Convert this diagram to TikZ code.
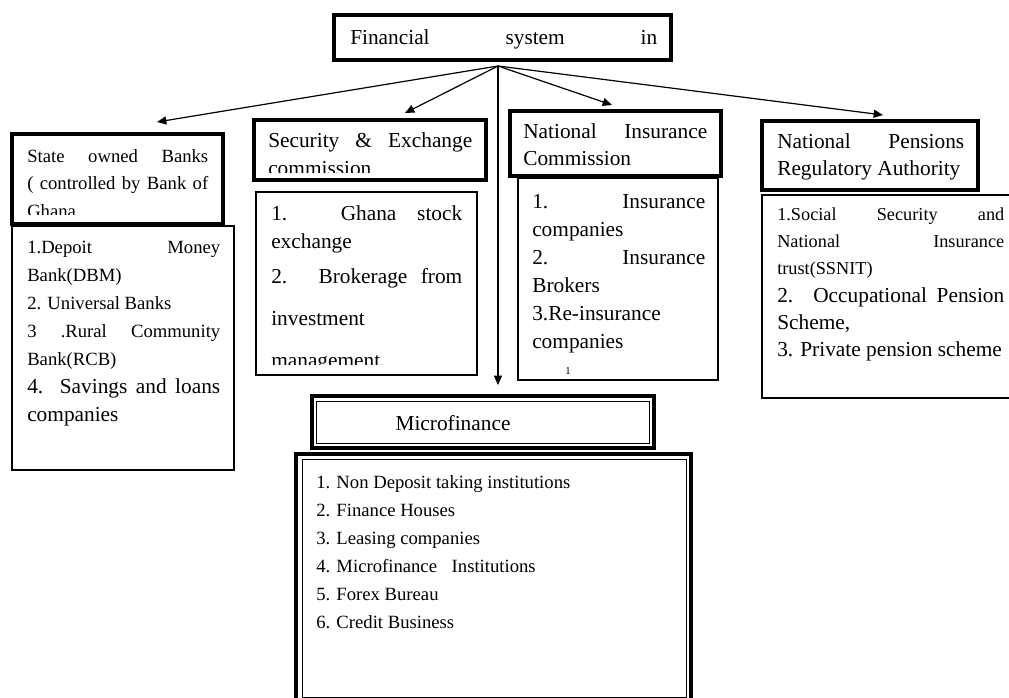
\documentclass[tikz,border=0pt]{standalone}
\usepackage{fontspec}
\setmainfont{Liberation Serif}
\usetikzlibrary{arrows.meta}
\usetikzlibrary{fit}
\usetikzlibrary{calc}
\setlength{\parindent}{0pt}

\tikzset{
    frame/.style = {draw, line width = 3pt, inner sep = 0pt, outer sep = 0pt},
    listbox/.style = {draw, line width = 0.8pt, inner sep = 0pt, outer sep = 0pt},
    txt/.style = {anchor = north west, inner sep = 0pt, align = justify},
    link/.style = {line width = 0.9pt, -{Triangle[length = 7pt, width = 6pt]}}
}
\newcommand{\bigfont}{\fontsize{16}{21}\selectfont}
\newcommand{\smallfont}{\fontsize{14}{21}\selectfont}

\begin{document}
\begin{tikzpicture}[x = 0.75pt, y = -0.75pt]
        \useasboundingbox (0, 0) rectangle (1009, 698);
        \clip (0, 0) rectangle (1009, 698);

        % boxes
        \node[frame, fit = {(334, 15) (671, 60)}] (fin) {};
        \node[listbox, fit = {(12, 226) (234, 470)}] (banksList) {};
        \node[frame, fit = {(12, 134) (223, 224)}] (banksHead) {};
        \node[frame, fit = {(254, 120) (486, 180)}] (secHead) {};
        \node[listbox, fit = {(256, 192) (477, 375)}] (secList) {};
        \node[listbox, fit = {(518, 178) (718, 380)}] (insList) {};
        \node[frame, fit = {(510, 111) (721, 176)}] (insHead) {};
        \node[listbox, fit = {(762, 195) (1020, 398)}] (penList) {};
        \node[frame, fit = {(762, 121) (978, 190)}] (penHead) {};
        \node[frame, fit = {(311.5, 395.5) (654, 448)}] (microHead) {};
        \draw[line width = 0.7pt] (316, 401) rectangle (649.5, 443);
        \node[frame, fit = {(296, 454) (691, 702)}] (microList) {};
        \draw[line width = 0.7pt] (302, 459) rectangle (686, 697);

        % texts
        \node[anchor = base west, inner sep = 0pt, font = \bigfont] (finTxt) at (350, 45)
            {\makebox[230.25pt][s]{Financial system in}};

        \begin{scope}
            \clip (14, 136) rectangle (221, 214.5);
            \node[txt, text width = 135.75pt, font = \fontsize{14}{20.6}\selectfont] (banksHeadTxt) at (27, 142.8)
                {\strut State owned Banks\linebreak ( controlled by Bank of\linebreak Ghana\par};
        \end{scope}
        \node[txt, text width = 144.75pt, font = \smallfont] (banksListTxt) at (27, 233.4)
            {\strut 1.Depoit Money\linebreak Bank(DBM)\par
             2. Universal Banks\par
             3 .Rural Community\linebreak Bank(RCB)\par
             \bigfont 4. Savings and loans\linebreak companies\par};

        \begin{scope}
            \clip (256, 122) rectangle (484, 172.5);
            \node[txt, text width = 153pt, font = \fontsize{16}{21}\selectfont] (secHeadTxt) at (268, 127.4)
                {\strut Security \& Exchange\linebreak commission\par};
        \end{scope}
        \begin{scope}
            \clip (257, 193) rectangle (476, 364.5);
            \node[txt, text width = 143.25pt, font = \bigfont] (secListTxt) at (271, 200.4)
                {\strut 1. Ghana stock\linebreak exchange\par
                 \vspace{-5.25pt}\fontsize{16}{31.5}\selectfont
                 2. Brokerage from\linebreak investment\par
                 management.\par};
        \end{scope}

        \node[txt, text width = 138pt, font = \fontsize{16}{20.25}\selectfont] (insHeadTxt) at (523, 119.1)
            {\strut National Insurance\linebreak Commission\par};
        \node[txt, text width = 129.75pt, font = \bigfont] (insListTxt) at (532, 188.4)
            {\strut 1. Insurance\linebreak companies\par
             2. Insurance\linebreak Brokers\par
             3.Re-insurance\par
             companies\par};
        \node[anchor = base, inner sep = 0pt, font = \fontsize{8}{9}\selectfont] (insNum) at (568, 374) {1};

        \node[txt, text width = 140.25pt, font = \fontsize{16}{20.25}\selectfont] (penHeadTxt) at (777, 129.1)
            {\strut National Pensions\linebreak Regulatory Authority\par};
        \node[txt, text width = 170.25pt, font = \fontsize{13.7}{20.5}\selectfont] (penListTxt) at (777, 200.9)
            {\strut 1.Social Security and\linebreak National Insurance\linebreak trust(SSNIT)\par
             \fontsize{16}{20.5}\selectfont
             2. Occupational Pension\linebreak Scheme,\par
             3. Private pension scheme\par};

        \node[anchor = base, inner sep = 0pt, font = \bigfont] (microTxt) at (453, 430) {Microfinance};
        \node[txt, text width = 270pt, font = \smallfont] (microListTxt) at (316, 468.4)
            {\strut 1. Non Deposit taking institutions\par
             2. Finance Houses\par
             3. Leasing companies\par
             4. Microfinance\hspace{11pt}Institutions\par
             5. Forex Bureau\par
             6. Credit Business\par};

        % arrows
        \coordinate (hub) at ($(fin.south) + (-4.5, 6)$);
        \coordinate (banksTip) at (157, 122);
        \coordinate (secTip) at (405, 113);
        \coordinate (microTip) at (498, 385);
        \coordinate (insTip) at (612, 105);
        \coordinate (penTip) at (883, 115);
        \draw[link] (hub) -- (banksTip);
        \draw[link] (hub) -- (secTip);
        \draw[link] (hub) -- (microTip);
        \draw[link] (hub) -- (insTip);
        \draw[link] (hub) -- (penTip);
    \end{tikzpicture}
\end{document}
